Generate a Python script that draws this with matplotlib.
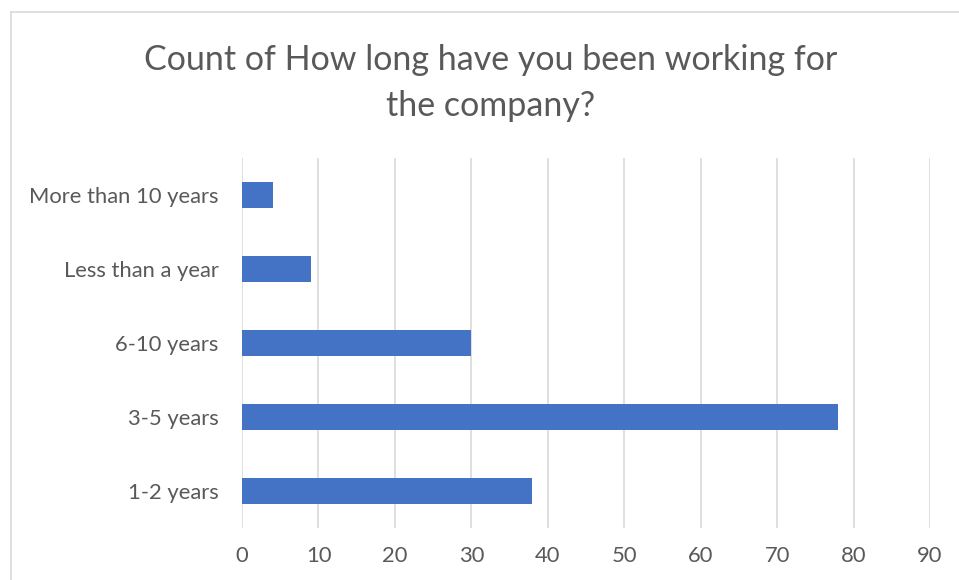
import matplotlib.pyplot as plt
from matplotlib.lines import Line2D

# data
categories = ['1-2 years', '3-5 years', '6-10 years', 'Less than a year', 'More than 10 years']
counts = [38, 78, 30, 9, 4]
x_ticks = [0, 10, 20, 30, 40, 50, 60, 70, 80, 90]
title = 'Count of How long have you been working for\nthe company?'

plt.rcParams['font.family'] = ['Lato', 'DejaVu Sans']
text_col = '#595959'

fig = plt.figure(figsize=(9.59, 5.8), dpi=100)
ax = fig.add_axes([242 / 959, 1 - 528 / 580, (930 - 242) / 959, (528 - 158) / 580])

ax.barh(range(len(categories)), counts, height=0.35, color='#4472C4', zorder=3)
ax.set_ylim(-0.5, len(categories) - 0.5)
ax.set_xlim(0, 90)
ax.set_xticks(x_ticks)
ax.set_yticks(range(len(categories)))
ax.set_yticklabels(categories)

ax.grid(axis='x', color='#D9D9D9', linewidth=1.2, zorder=0)
for s in ax.spines.values():
    s.set_visible(False)
ax.tick_params(axis='both', length=0, labelsize=15.8, colors=text_col)
ax.tick_params(axis='y', pad=17)
ax.tick_params(axis='x', pad=13)

fig.text(491 / 959, 1 - 83 / 580, title, ha='center', va='center',
         fontsize=24.5, color=text_col, linespacing=1.5)

# chart area border (cut by the image edge on the right and bottom)
fig.add_artist(Line2D([11 / 959, 11 / 959], [0, 1 - 12 / 580], transform=fig.transFigure,
                      color='#D9D9D9', linewidth=1.2))
fig.add_artist(Line2D([11 / 959, 1], [1 - 12 / 580, 1 - 12 / 580], transform=fig.transFigure,
                      color='#D9D9D9', linewidth=1.2))

fig.savefig('out.png', dpi=100)
